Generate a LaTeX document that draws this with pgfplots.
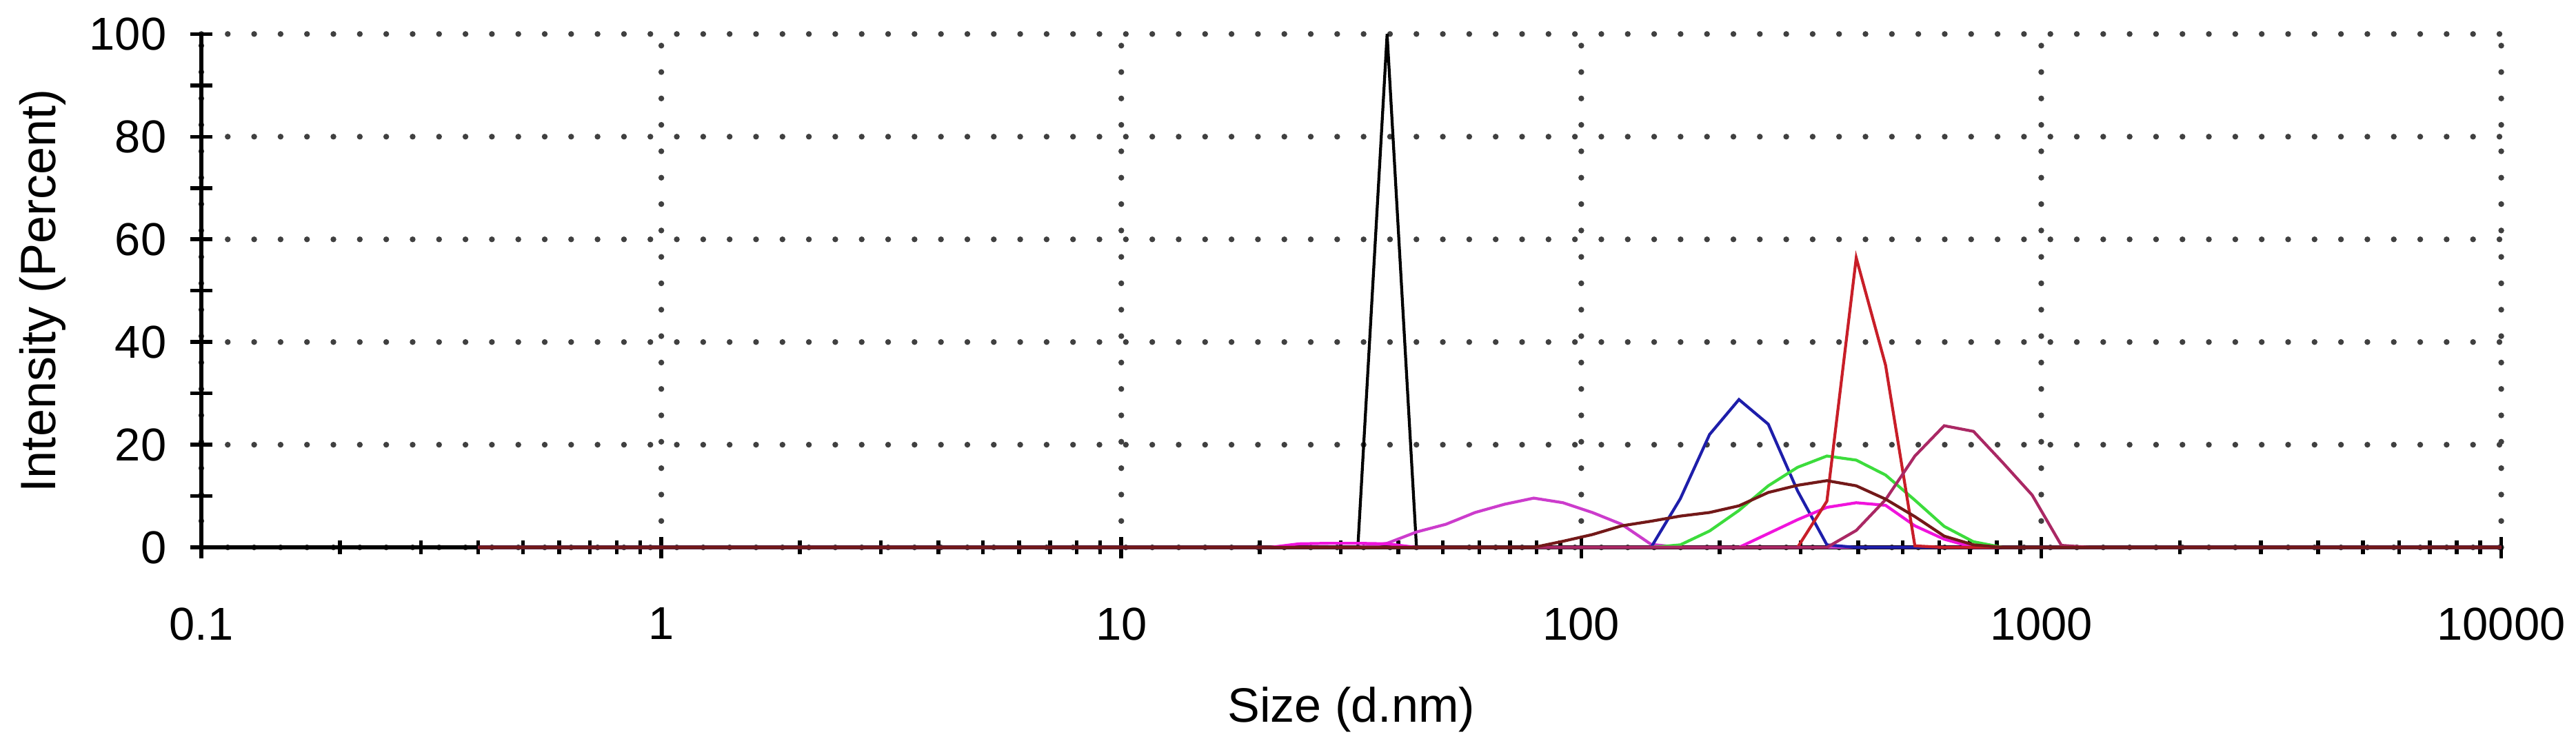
\documentclass[border=0pt]{standalone}
\usepackage{pgfplots}
\pgfplotsset{compat=1.18}
\usepackage{fontspec}
\setmainfont{Liberation Sans}

\definecolor{cviolet}{RGB}{204,60,204}
\definecolor{cbrown}{RGB}{115,25,25}
\definecolor{cblue}{RGB}{30,30,170}
\definecolor{cgreen}{RGB}{60,220,60}
\definecolor{cpink}{RGB}{240,20,220}
\definecolor{cred}{RGB}{200,30,40}
\definecolor{cmauve}{RGB}{170,40,100}

\begin{document}
\begin{tikzpicture}
\begin{axis}[
    at={(0,0)}, anchor=south west,
    scale only axis,
    width=513.7pt, height=114.7pt,
    xmode=log,
    xmin=0.1, xmax=10000,
    ymin=0, ymax=100,
    axis x line*=bottom,
    axis y line*=left,
    axis line style={line width=0.85pt, black},
    xtick={0.1,1,10,100,1000,10000},
    xticklabels={0.1,1,10,100,1000,10000},
    minor xtick={0.2,0.3,0.4,0.5,0.6,0.7,0.8,0.9,2,3,4,5,6,7,8,9,20,30,40,50,60,70,80,90,200,300,400,500,600,700,800,900,2000,3000,4000,5000,6000,7000,8000,9000},
    ytick={0,20,40,60,80,100},
    extra y ticks={10,30,50,70,90},
    extra y tick labels={},
    extra y tick style={grid=none},
    tick align=center,
    major tick length=4.8pt,
    minor tick length=3pt,
    tick style={line width=0.85pt, black},
    xmajorgrids, ymajorgrids,
    major grid style={black!75, line width=1.3pt, line cap=round, dash pattern=on 0pt off 5.9pt},
    /pgf/number format/assume math mode=true,
    yticklabel style={font=\fontsize{10.3}{12}\selectfont, anchor=east, inner sep=0pt},
    xticklabel style={font=\fontsize{10.3}{12}\selectfont, anchor=north, inner sep=0pt},
    yticklabel shift=5.2pt,
    xticklabel shift=10.9pt,
    xlabel={Size (d.nm)},
    ylabel={Intensity (Percent)},
    xlabel style={at={(axis description cs:0.5,-0.3165)}, anchor=center, inner sep=0pt, font=\fontsize{10.8}{13}\selectfont},
    ylabel style={at={(axis description cs:-0.0689,0.5)}, anchor=center, inner sep=0pt, font=\fontsize{11.1}{13}\selectfont},
    clip=false,
    every axis plot/.append style={line width=0.65pt, no markers},
]
% black
\addplot[black] coordinates {
    (0.4,0) (32.68,0) (37.84,100) (43.83,0) (10000,0)
};
% violet
\addplot[cviolet] coordinates {
    (0.4,0) (32.68,0) (37.84,0.8) (43.83,3.0) (50.76,4.5) (58.78,6.8) (68.07,8.4)
    (78.84,9.6) (91.30,8.7) (105.7,6.8) (122.4,4.5) (141.8,0.6) (164.2,0) (10000,0)
};
% blue
\addplot[cblue] coordinates {
    (0.4,0) (141.8,0) (164.2,9.5) (190.1,22) (220.2,28.8) (255.0,24) (295.3,11)
    (342.0,0.5) (396.1,0) (10000,0)
};
% green
\addplot[cgreen] coordinates {
    (0.4,0) (141.8,0) (164.2,0.5) (190.1,3.2) (220.2,7.2) (255.0,12.0) (295.3,15.6)
    (342.0,17.8) (396.1,17.0) (458.7,14.1) (531.2,9.2) (615.1,4.1) (712.4,1.1) (825.0,0) (10000,0)
};
% pink
\addplot[cpink] coordinates {
    (0.4,0) (21.03,0) (24.36,0.7) (28.21,0.8) (32.68,0.8) (37.84,0.7) (43.83,0)
    (220.2,0) (255.0,2.7) (295.3,5.4) (342.0,7.8) (396.1,8.7) (458.7,8.2) (531.2,4.2)
    (615.1,1.6) (712.4,0) (10000,0)
};
% red
\addplot[cred] coordinates {
    (0.4,0) (295.3,0) (342.0,9) (396.1,56.4) (458.7,35.5) (531.2,0.3) (615.1,0) (10000,0)
};
% mauve
\addplot[cmauve] coordinates {
    (0.4,0) (342.0,0) (396.1,3.3) (458.7,9.3) (531.2,17.8) (615.1,23.7) (712.4,22.6)
    (825.0,16.5) (955.4,10.2) (1106,0.4) (1281,0) (10000,0)
};
% brown
\addplot[cbrown] coordinates {
    (0.4,0) (78.84,0) (91.30,1.2) (105.7,2.5) (122.4,4.2) (141.8,5.1) (164.2,6.1)
    (190.1,6.8) (220.2,8.1) (255.0,10.7) (295.3,12.1) (342.0,13.0) (396.1,12.0)
    (458.7,9.4) (531.2,6.0) (615.1,2.2) (712.4,0.5) (825.0,0) (10000,0)
};
\end{axis}
\pgfresetboundingbox
\path[use as bounding box] (-44.97pt,-45.12pt) rectangle (530.4pt,122.3pt);
\end{tikzpicture}
\end{document}
